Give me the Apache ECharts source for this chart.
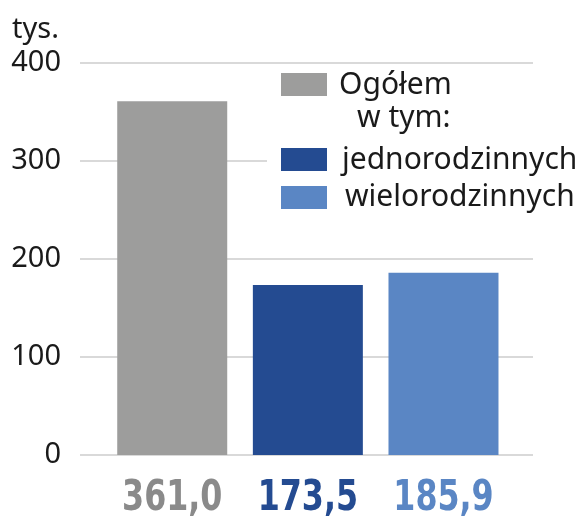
<!DOCTYPE html>
<html>
<head>
<meta charset="utf-8">
<script src="https://cdn.jsdelivr.net/npm/echarts@6/dist/echarts.min.js"></script>
<style>html,body{margin:0;padding:0;background:#fff}#c{width:587px;height:517px}</style>
</head>
<body>
<div id="c"></div>
<script>
const categories = ['Ogółem', 'jednorodzinnych', 'wielorodzinnych'];
const values = [361.0, 173.5, 185.9];
const barColors = ['#9d9d9c', '#244b91', '#5a86c4'];
const labelColors = ['#8a8a8a', '#244b91', '#5a86c4'];
const yTicks = [0, 100, 200, 300, 400];
const unit = 'tys.';
const legendSub = 'w tym:';

const chart = echarts.init(document.getElementById('c'), null, {renderer: 'canvas'});
const txtFont = '"Noto Sans", "Open Sans", sans-serif';
const boldFont = '"DejaVu Sans Condensed", "DejaVu Sans", sans-serif';

const data = values.map((v, i) => ({
  value: [i, v],
  itemStyle: {color: barColors[i]}
}));

const legendRows = [
  {y: 73, ty: 85, tx: 339, text: categories[0], color: barColors[0]},
  {y: 148, ty: 160, tx: 342, text: categories[1], color: barColors[1]},
  {y: 186, ty: 197, tx: 345, text: categories[2], color: barColors[2]}
];
const graphic = [{type: 'rect', shape: {x: 267, y: 67, width: 320, height: 150}, style: {fill: '#fff'}, z: 50, silent: true}];
legendRows.forEach(r => {
  graphic.push({type: 'rect', shape: {x: 281, y: r.y, width: 46, height: 23}, style: {fill: r.color}, z: 60});
  graphic.push({type: 'text', x: r.tx, y: r.ty, style: {text: r.text, font: '30px ' + txtFont, fill: '#1a1a1a', verticalAlign: 'middle', align: 'left'}, z: 60});
});
graphic.push({type: 'text', x: 357, y: 118, style: {text: legendSub, font: '30px ' + txtFont, fill: '#1a1a1a', verticalAlign: 'middle', align: 'left'}, z: 60});
graphic.push({type: 'text', x: 12, y: 30, style: {text: unit, font: '29px ' + txtFont, fill: '#1a1a1a', verticalAlign: 'middle', align: 'left'}, z: 60});

chart.setOption({
  animation: false,
  grid: {left: 80, right: 54, top: 63, bottom: 62, containLabel: false},
  xAxis: {
    type: 'value', min: -0.68, max: 2.66,
    axisLine: {show: false}, axisTick: {show: false}, axisLabel: {show: false}, splitLine: {show: false}
  },
  yAxis: {
    type: 'value', min: yTicks[0], max: yTicks[yTicks.length - 1], interval: 100,
    axisLine: {show: false}, axisTick: {show: false},
    axisLabel: {fontFamily: txtFont, fontSize: 29, color: '#1a1a1a', margin: 19, padding: [8, 0, 0, 0]},
    splitLine: {lineStyle: {color: '#d9d9d9', width: 2}}
  },
  series: [{
    type: 'bar', barWidth: 110, data: data
  }, {
    type: 'custom', data: values.map((v, i) => [i, v]),
    renderItem: (params, api) => {
      const i = api.value(0);
      const pt = api.coord([i, 0]);
      return {
        type: 'text', x: pt[0], y: pt[1] + 44, scaleX: 0.82, scaleY: 1,
        style: {
          text: api.value(1).toFixed(1).replace('.', ','),
          font: 'bold 43px ' + boldFont,
          fill: labelColors[i], align: 'center', verticalAlign: 'middle'
        }
      };
    }
  }],
  graphic: graphic
});
</script>
</body>
</html>
